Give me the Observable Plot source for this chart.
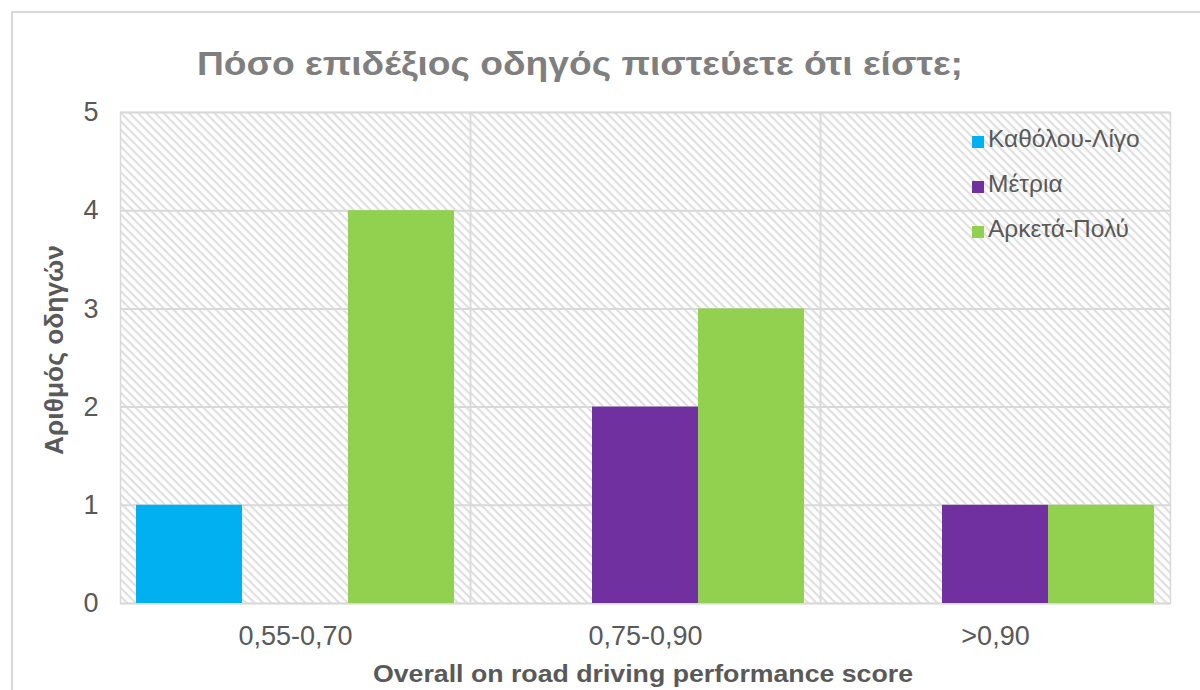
<!DOCTYPE html>
<html><head><meta charset="utf-8">
<script src="https://cdn.jsdelivr.net/npm/d3@7"></script>
<script src="https://cdn.jsdelivr.net/npm/@observablehq/plot@0.6"></script>
<style>
html,body{margin:0;padding:0;background:#fff;}
#wrap{position:relative;width:1200px;height:690px;overflow:hidden;}
#border{position:absolute;left:11px;top:11px;width:1200px;height:700px;border:2px solid #d9d9d9;box-sizing:border-box;}
#chart{position:absolute;left:0;top:0;}
#legend{position:absolute;left:972px;top:125px;font:24.5px "Liberation Sans",Arial,sans-serif;color:#595959;}
#legend div{height:45px;display:flex;align-items:flex-start;}
#legend span.sw{display:inline-block;width:12px;height:12px;margin-right:4px;margin-top:11px;}
</style></head>
<body><div id="wrap"><div id="border"></div><div id="chart"></div><div id="legend"></div></div>
<script>
const categories = ["0,55-0,70", "0,75-0,90", ">0,90"];
const seriesNames = ["Καθόλου-Λίγο", "Μέτρια", "Αρκετά-Πολύ"];
const kathólou = [1, 0, 0];
const metria = [0, 2, 1];
const arketa = [4, 3, 1];
const colors = ["#00B0F0", "#7030A0", "#92D050"];
const yTicks = [0, 1, 2, 3, 4, 5];
const titleText = "Πόσο επιδέξιος οδηγός πιστεύετε ότι είστε;";
const xLabel = "Overall on road driving performance score";
const yLabel = "Αριθμός οδηγών";

const seriesValues = [kathólou, metria, arketa];
const rows = [];
seriesNames.forEach((s, i) => categories.forEach((c, j) => rows.push({category: c, series: s, value: seriesValues[i][j]})));
const bars = rows.filter(d => d.value > 0);

const plot = Plot.plot({
  width: 1200, height: 690,
  marginLeft: 119, marginRight: 30, marginTop: 112, marginBottom: 87,
  style: {fontFamily: "'Liberation Sans', Arial, sans-serif", fontSize: "27px", color: "#595959", background: "transparent"},
  fx: {domain: categories, padding: 0, label: null, tickSize: 0, tickPadding: 22},
  x: {domain: seriesNames, paddingOuter: 0.15, paddingInner: 0, axis: null},
  y: {domain: [0, 5], ticks: yTicks, tickSize: 0, tickPadding: 22, label: null, tickFormat: d => String(d)},
  color: {domain: seriesNames, range: colors},
  marks: [
    Plot.frame({fill: "url(#hatch)", stroke: null}),
    Plot.gridY(yTicks, {stroke: "#d9d9d9", strokeOpacity: 1, strokeWidth: 2}),
    Plot.frame({stroke: "#d9d9d9", strokeWidth: 1.5}),
    Plot.barY(bars, {fx: "category", x: "series", y: "value", fill: "series", inset: 0})
  ]
});
const svg = d3.select(plot);
svg.selectAll("text").style("font-size", "27px");
const defs = svg.insert("defs", ":first-child");
const pat = defs.append("pattern").attr("id", "hatch").attr("width", 6).attr("height", 6)
  .attr("patternUnits", "userSpaceOnUse").attr("patternTransform", "rotate(45)");
pat.append("rect").attr("width", 6).attr("height", 6).attr("fill", "#fff");
pat.append("rect").attr("width", 6).attr("height", 2.2).attr("fill", "#e0e0e0");
// title and axis labels
svg.append("text").attr("x", 197).attr("y", 75).attr("text-anchor", "start")
  .attr("textLength", 766).attr("lengthAdjust", "spacingAndGlyphs")
  .style("font", "bold 33px 'Liberation Sans', Arial, sans-serif").attr("fill", "#7f7f7f")
  .text(titleText);
svg.append("text").attr("x", 373).attr("y", 682).attr("text-anchor", "start")
  .attr("textLength", 540).attr("lengthAdjust", "spacingAndGlyphs")
  .style("font", "bold 24px 'Liberation Sans', Arial, sans-serif").attr("fill", "#595959")
  .text(xLabel);
svg.append("text").attr("transform", "translate(63,455) rotate(-90)").attr("text-anchor", "start")
  .attr("textLength", 210).attr("lengthAdjust", "spacingAndGlyphs")
  .style("font", "bold 25px 'Liberation Sans', Arial, sans-serif").attr("fill", "#595959")
  .text(yLabel);
document.getElementById("chart").appendChild(plot);

const lg = d3.select("#legend");
seriesNames.forEach((s, i) => {
  const row = lg.append("div");
  row.append("span").attr("class", "sw").style("background", colors[i]);
  row.append("span").text(s);
});
</script></body></html>
